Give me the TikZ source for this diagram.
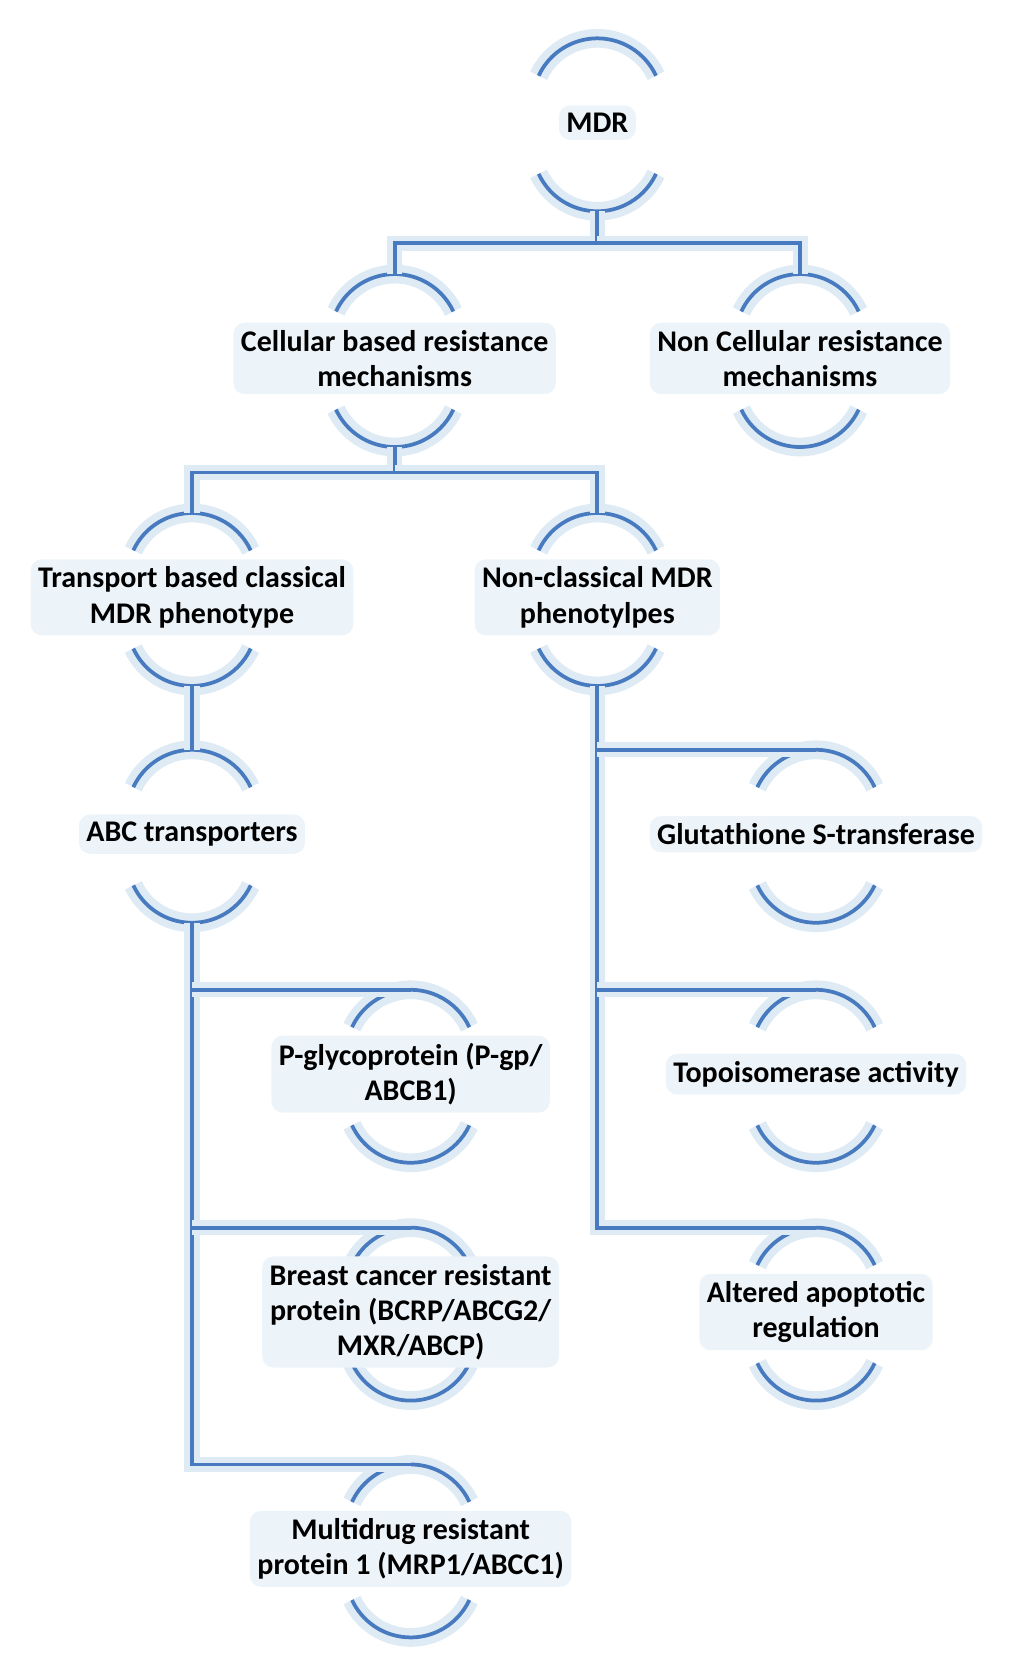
\documentclass[tikz,border=0pt]{standalone}
\usepackage{fontspec}
\setmainfont{Carlito}
\begin{document}
\definecolor{ln}{RGB}{72,122,192}
\definecolor{glow}{RGB}{214,230,242}
\begin{tikzpicture}[x=0.01cm,y=-0.01cm,
  lab/.style={font=\bfseries\fontsize{8}{9.4}\selectfont,align=center,fill=glow!45,rounded corners=3pt,inner sep=2pt},
  arcl/.style={draw=ln,line width=1pt},
  halo/.style={draw=glow!80,line width=5pt},
  conn/.style={draw=ln,line width=1pt,preaction={draw=glow!80,line width=4pt}}]
\useasboundingbox (0,0) rectangle (960,1575);
\newcommand\mnode[4]{%
  \begin{scope}[shift={(#2,#3)}]
   \draw[halo] (-55,-44) arc[start angle=205,end angle=335,radius=60.7];
   \draw[arcl] (-55,-44) arc[start angle=205,end angle=335,radius=60.7];
   \draw[halo] (-55,48) arc[start angle=155,end angle=25,radius=60.7];
   \draw[arcl] (-55,48) arc[start angle=155,end angle=25,radius=60.7];
  \end{scope}
  \node[lab] (#1) at (#2,#3) {#4};
  \coordinate (#1-t) at (#2,#3-79);
  \coordinate (#1-b) at (#2,#3+83);}
\mnode{mdr}{560}{115}{MDR}
\mnode{cell}{370}{336}{Cellular based resistance\\mechanisms}
\mnode{ncell}{750}{336}{Non Cellular resistance\\mechanisms}
\mnode{trans}{180}{560}{Transport based classical\\MDR phenotype}
\mnode{ncl}{560}{560}{Non-classical MDR\\phenotylpes}
\mnode{abc}{180}{782}{ABC transporters}
\mnode{gst}{765}{782}{Glutathione S-transferase}
\mnode{topo}{765}{1007}{Topoisomerase activity}
\mnode{apo}{765}{1230}{Altered apoptotic\\regulation}
\mnode{pgp}{385}{1007}{P-glycoprotein (P-gp/\\ABCB1)}
\mnode{bcrp}{385}{1230}{Breast cancer resistant\\protein (BCRP/ABCG2/\\MXR/ABCP)}
\mnode{mrp}{385}{1452}{Multidrug resistant\\protein 1 (MRP1/ABCC1)}
\coordinate (j1) at (560,228);
\coordinate (j2) at (370,443);
\draw[conn] (mdr-b) -- (j1) -| (cell-t);
\draw[conn] (j1) -| (ncell-t);
\draw[conn] (cell-b) -- (j2) -| (trans-t);
\draw[conn] (j2) -| (ncl-t);
\draw[conn] (trans-b) -- (abc-t);
\draw[conn] (ncl-b) |- (apo-t);
\draw[conn] (ncl-b |- gst-t) -- (gst-t);
\draw[conn] (ncl-b |- topo-t) -- (topo-t);
\draw[conn] (abc-b) |- (mrp-t);
\draw[conn] (abc-b |- pgp-t) -- (pgp-t);
\draw[conn] (abc-b |- bcrp-t) -- (bcrp-t);
\end{tikzpicture}
\end{document}
